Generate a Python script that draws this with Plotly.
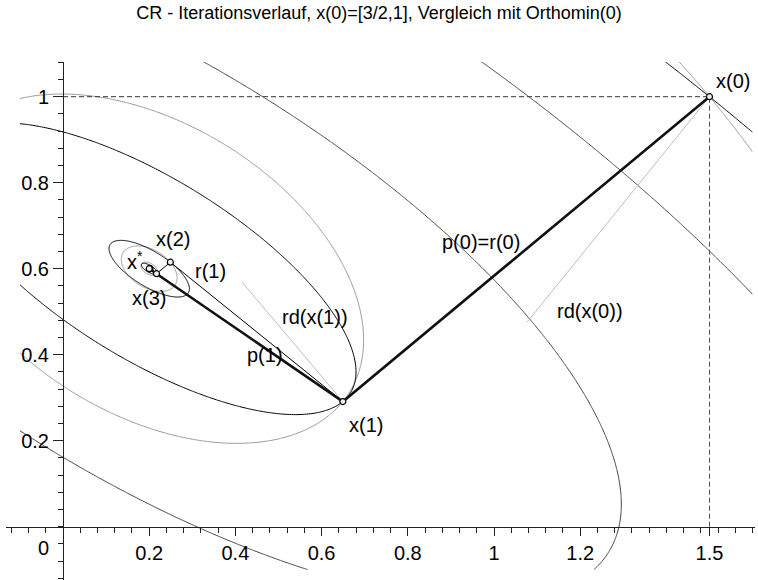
import numpy as np
import plotly.graph_objects as go

# ---------------- data ----------------
A_matrix = [[2.0, 1.0], [1.0, 3.0]]
b_vector = [1.0, 2.0]
x_star = [0.2, 0.6]

# ||b - A x||^2 level values (black: through iterates, dark grey: extra levels)
black_levels = [15.25, 0.575685, 0.021733, 0.000820]
darkgrey_levels = [3.0, 9.0]
# (x-x*)^T A (x-x*) level values (grey)
grey_levels = [4.9, 0.412442, 0.006983, 0.000588]

# CR iteration path
cr_x = [1.5, 0.649315, 0.2]
cr_y = [1.0, 0.291096, 0.6]
# Orthomin(0) iteration path
om_x = [1.5, 0.649315, 0.249073, 0.216960, 0.201851, 0.200639, 0.200069]
om_y = [1.0, 0.291096, 0.615100, 0.588338, 0.600569, 0.599559, 0.600021]

# steepest-descent (rd) segments: start and end
rd0 = [[1.5, 1.0], [1.077, 0.476]]
rd1 = [[0.649315, 0.291096], [0.4154, 0.5689]]

x_ticks = [0.2, 0.4, 0.6, 0.8, 1.0, 1.2, 1.5]
x_ticktext = ["0.2", "0.4", "0.6", "0.8", "1", "1.2", "1.5"]
y_ticks = [0.2, 0.4, 0.6, 0.8, 1.0]
y_ticktext = ["0.2", "0.4", "0.6", "0.8", "1"]

labels = [
    ("x(0)", 1.555, 1.036),
    ("p(0)=r(0)", 0.97, 0.662),
    ("rd(x(0))", 1.223, 0.502),
    ("x(1)", 0.703, 0.236),
    ("rd(x(1))", 0.585, 0.488),
    ("p(1)", 0.469, 0.399),
    ("r(1)", 0.343, 0.594),
    ("x(2)", 0.255, 0.668),
    ("x(3)", 0.2, 0.532),
    ("x<sup>*</sup>", 0.168, 0.618),
]

title_text = "CR - Iterationsverlauf, x(0)=[3/2,1], Vergleich mit Orthomin(0)"

# ---------------- helpers ----------------
A = np.array(A_matrix)
b = np.array(b_vector)
xs_c = np.array(x_star)


def residual_sq(X, Y):
    r1 = b[0] - (A[0, 0] * X + A[0, 1] * Y)
    r2 = b[1] - (A[1, 0] * X + A[1, 1] * Y)
    return r1 * r1 + r2 * r2


def energy(X, Y):
    ex = X - xs_c[0]
    ey = Y - xs_c[1]
    return A[0, 0] * ex * ex + 2 * A[0, 1] * ex * ey + A[1, 1] * ey * ey


gx = np.linspace(-0.1, 1.6, 341)
gy = np.linspace(-0.1, 1.085, 238)
GX, GY = np.meshgrid(gx, gy)
lx = np.linspace(0.06, 0.34, 201)
ly = np.linspace(0.46, 0.74, 201)
LX, LY = np.meshgrid(lx, ly)

fig = go.Figure()


def add_level(func, level, color, width=1.0):
    big = level > 0.1
    X, Y, x1, y1 = (GX, GY, gx, gy) if big else (LX, LY, lx, ly)
    fig.add_trace(go.Contour(
        x=x1, y=y1, z=func(X, Y),
        autocontour=False,
        contours=dict(start=level, end=level, size=1.0, coloring="none",
                      showlabels=False),
        line=dict(color=color, width=width, smoothing=1.0),
        showscale=False, hoverinfo="skip", showlegend=False,
    ))


for lv in grey_levels:
    add_level(energy, lv, "#9a9a9a", 1.0)
for lv in darkgrey_levels:
    add_level(residual_sq, lv, "#444444", 1.0)
for lv in black_levels:
    add_level(residual_sq, lv, "#000000", 1.0)

# rd segments
for seg in (rd0, rd1):
    fig.add_trace(go.Scatter(x=[seg[0][0], seg[1][0]], y=[seg[0][1], seg[1][1]],
                             mode="lines", line=dict(color="#bdbdbd", width=1),
                             hoverinfo="skip", showlegend=False))

# dashed guide lines from x(0)
fig.add_trace(go.Scatter(x=[0, cr_x[0]], y=[cr_y[0], cr_y[0]], mode="lines",
                         line=dict(color="#333333", width=1, dash="5px,3px"),
                         hoverinfo="skip", showlegend=False))
fig.add_trace(go.Scatter(x=[cr_x[0], cr_x[0]], y=[0, cr_y[0]], mode="lines",
                         line=dict(color="#555555", width=1, dash="5px,3px"),
                         hoverinfo="skip", showlegend=False))

# Orthomin(0) path (thin)
fig.add_trace(go.Scatter(x=om_x, y=om_y, mode="lines",
                         line=dict(color="#000000", width=1),
                         hoverinfo="skip", showlegend=False))
# CR path (bold)
fig.add_trace(go.Scatter(x=cr_x, y=cr_y, mode="lines",
                         line=dict(color="#111111", width=2.6),
                         hoverinfo="skip", showlegend=False))
# iterate markers
fig.add_trace(go.Scatter(x=om_x, y=om_y, mode="markers",
                         marker=dict(symbol="circle", size=6, color="#f0f0f0",
                                     line=dict(color="#000000", width=1.2)),
                         hoverinfo="skip", showlegend=False))

font_family = "Liberation Sans, Arial, Helvetica, sans-serif"
for txt, lx_, ly_ in labels:
    fig.add_annotation(x=lx_, y=ly_, text=txt, showarrow=False,
                       xanchor="center", yanchor="middle",
                       font=dict(family=font_family, size=20, color="#000"))

# origin label "0"
fig.add_annotation(x=-0.046, y=-0.05, text="0", showarrow=False,
                   xanchor="center", yanchor="middle",
                   font=dict(family=font_family, size=20, color="#000"))

# ---------------- layout ----------------
px_per_unit_x = 431.0
px_per_unit_y = 430.0
W, H = 758, 580
ml, mr, mt, mb = 6, 3, 62, 0
origin_px = (63.0, 526.7)
xr = [(ml - origin_px[0]) / px_per_unit_x, (W - mr - origin_px[0]) / px_per_unit_x]
yr = [-(H - mb - origin_px[1]) / px_per_unit_y, (origin_px[1] - mt) / px_per_unit_y]

fig.update_layout(
    width=W, height=H,
    margin=dict(l=ml, r=mr, t=mt, b=mb),
    plot_bgcolor="white", paper_bgcolor="white",
    showlegend=False,
    title=dict(text=title_text, x=0.5, xanchor="center", xref="container",
               y=1 - 13 / H, yanchor="middle", yref="container",
               font=dict(family=font_family, size=18, color="#000")),
    xaxis=dict(range=xr, anchor="free", position=(0 - yr[0]) / (yr[1] - yr[0]),
               showline=True, linecolor="#222", linewidth=1.3,
               showgrid=False, zeroline=False,
               ticks="outside", ticklen=8, tickwidth=1, tickcolor="#222",
               tickmode="array", tickvals=x_ticks, ticktext=x_ticktext,
               tickfont=dict(family=font_family, size=20, color="#000"),
               minor=dict(ticks="outside", ticklen=5, tickwidth=1, tickcolor="#222",
                          tick0=0, dtick=0.04, showgrid=False),
               fixedrange=True),
    yaxis=dict(range=yr, anchor="free", position=(0 - xr[0]) / (xr[1] - xr[0]),
               showline=True, linecolor="#222", linewidth=1.3,
               showgrid=False, zeroline=False,
               ticks="outside", ticklen=10, tickwidth=1, tickcolor="#222",
               tickmode="array", tickvals=y_ticks, ticktext=y_ticktext,
               tickfont=dict(family=font_family, size=20, color="#000"),
               minor=dict(ticks="outside", ticklen=5, tickwidth=1, tickcolor="#222",
                          tick0=0, dtick=0.04, showgrid=False),
               fixedrange=True),
)

fig.write_html("out.html",
               config={"displayModeBar": False, "staticPlot": True},
               post_script="document.body.style.margin='0';document.body.style.padding='0';")
